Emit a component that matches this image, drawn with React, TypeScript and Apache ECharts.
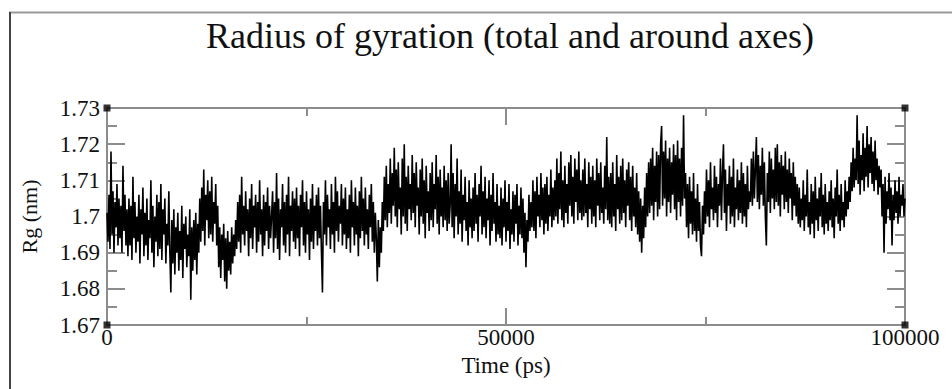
import React, { useEffect, useRef } from "react";
import * as echarts from "echarts";

const titleText = "Radius of gyration (total and around axes)";
const xAxisName = "Time (ps)";
const yAxisName = "Rg (nm)";
const timeStepPs = 125;

const rgValues: number[] = [
  // 0 - 2.5 ns
  1.701, 1.693, 1.706, 1.691, 1.718, 1.695, 1.707, 1.690, 1.704, 1.697, 1.709, 1.692, 1.705, 1.694, 1.703, 1.690, 1.714, 1.696, 1.706, 1.692, 1.702,
  // 2.6 - 7.9 ns
  1.689, 1.705, 1.692, 1.703, 1.688, 1.711, 1.694, 1.704, 1.690, 1.700,
  1.693, 1.706, 1.687, 1.702, 1.695, 1.708, 1.689, 1.701, 1.692, 1.705,
  1.688, 1.699, 1.694, 1.710, 1.690, 1.703, 1.686, 1.700, 1.693, 1.706,
  1.689, 1.704, 1.691, 1.709, 1.688, 1.702, 1.695, 1.705, 1.687, 1.698, 1.692, 1.707, 1.690,
  // 8 - 11.5 ns
  1.679, 1.699, 1.687, 1.702, 1.684, 1.697, 1.690, 1.701, 1.685, 1.696,
  1.688, 1.703, 1.683, 1.698, 1.691, 1.700, 1.686, 1.695, 1.689, 1.702,
  1.677, 1.697, 1.685, 1.699, 1.688, 1.701, 1.684, 1.698, 1.690,
  // 11.6 - 13.9 ns
  1.705, 1.693, 1.708, 1.696, 1.713, 1.692, 1.706, 1.699, 1.710, 1.694,
  1.707, 1.695, 1.711, 1.693, 1.704, 1.698, 1.709, 1.692, 1.703,
  // 14 - 16.1 ns
  1.686, 1.697, 1.683, 1.695, 1.688, 1.698, 1.682, 1.694, 1.680,
  1.696, 1.685, 1.693, 1.684, 1.697, 1.687, 1.695, 1.689, 1.699,
  // 16.25 - 20.6 ns
  1.691, 1.704, 1.693, 1.706, 1.690, 1.711, 1.695, 1.703, 1.692, 1.707, 1.696, 1.702,
  1.689, 1.705, 1.694, 1.709, 1.691, 1.703, 1.697, 1.706, 1.690, 1.704, 1.693, 1.710,
  1.695, 1.702, 1.689, 1.706, 1.692, 1.704, 1.696, 1.708, 1.691, 1.703, 1.694, 1.700,
  // 20.75 - 26.1 ns
  1.707, 1.690, 1.704, 1.694, 1.712, 1.691, 1.705, 1.688, 1.702, 1.697, 1.709,
  1.692, 1.704, 1.690, 1.706, 1.695, 1.711, 1.689, 1.703, 1.696, 1.707, 1.693,
  1.705, 1.691, 1.708, 1.694, 1.703, 1.689, 1.706, 1.697, 1.710, 1.692, 1.704,
  1.690, 1.707, 1.695, 1.702, 1.688, 1.705, 1.693, 1.709, 1.691, 1.703, 1.696,
  // 26.25 - 33.6 ns
  1.706, 1.692, 1.708, 1.694, 1.703, 1.690, 1.679, 1.704, 1.695, 1.710, 1.692, 1.706,
  1.697, 1.702, 1.691, 1.709, 1.695, 1.704, 1.690, 1.711, 1.696, 1.707, 1.693, 1.703,
  1.698, 1.709, 1.692, 1.705, 1.695, 1.708, 1.691, 1.702, 1.694, 1.706, 1.690, 1.710,
  1.697, 1.704, 1.692, 1.708, 1.695, 1.703, 1.689, 1.707, 1.694, 1.711, 1.696, 1.705,
  1.692, 1.708, 1.695, 1.702, 1.691, 1.706, 1.697, 1.709, 1.693, 1.704, 1.690, 1.701,
  // 33.75 - 34.4 ns
  1.694, 1.682, 1.699, 1.686, 1.697, 1.690,
  // 34.5 - 42.9 ns
  1.704, 1.696, 1.711, 1.699, 1.714, 1.697, 1.709, 1.701, 1.716, 1.698, 1.712, 1.703,
  1.719, 1.700, 1.713, 1.697, 1.715, 1.702, 1.708, 1.695, 1.716, 1.700, 1.720, 1.698,
  1.711, 1.696, 1.714, 1.702, 1.709, 1.699, 1.717, 1.701, 1.712, 1.697, 1.715, 1.703,
  1.708, 1.695, 1.713, 1.700, 1.716, 1.698, 1.710, 1.694, 1.714, 1.701, 1.707, 1.696,
  1.712, 1.699, 1.715, 1.697, 1.709, 1.702, 1.717, 1.698, 1.711, 1.695, 1.713, 1.700,
  1.708, 1.697, 1.714, 1.699, 1.710, 1.696, 1.712, 1.698,
  // 43 - 48.9 ns
  1.703, 1.720, 1.697, 1.712, 1.694, 1.709, 1.700, 1.716, 1.695, 1.707, 1.698, 1.713,
  1.693, 1.706, 1.699, 1.711, 1.696, 1.704, 1.692, 1.710, 1.697, 1.705, 1.694, 1.708,
  1.696, 1.712, 1.698, 1.706, 1.693, 1.709, 1.700, 1.714, 1.695, 1.707, 1.697, 1.711,
  1.694, 1.705, 1.699, 1.710, 1.692, 1.706, 1.696, 1.712, 1.698, 1.704, 1.693, 1.709,
  // 49 - 53.1 ns
  1.695, 1.703, 1.694, 1.708, 1.692, 1.705, 1.697, 1.710, 1.693, 1.704, 1.696, 1.709,
  1.691, 1.702, 1.695, 1.707, 1.693, 1.706, 1.698, 1.709, 1.692, 1.703, 1.695, 1.708,
  1.694, 1.705, 1.690, 1.701, 1.686, 1.699, 1.693, 1.706, 1.696, 1.704,
  // 53.25 - 56.1 ns
  1.697, 1.710, 1.696, 1.707, 1.694, 1.711, 1.700, 1.706, 1.697, 1.712, 1.699, 1.708,
  1.695, 1.709, 1.698, 1.711, 1.696, 1.706, 1.700, 1.713, 1.697, 1.708, 1.699, 1.710,
  // 56.25 - 59.4 ns
  1.700, 1.716, 1.698, 1.712, 1.702, 1.718, 1.699, 1.710, 1.697, 1.714, 1.701, 1.709, 1.698,
  1.715, 1.703, 1.717, 1.700, 1.711, 1.698, 1.716, 1.704, 1.713, 1.699, 1.718, 1.701, 1.710,
  // 59.5 - 62.9 ns
  1.699, 1.713, 1.700, 1.716, 1.701, 1.709, 1.697, 1.715, 1.702, 1.711, 1.698, 1.714, 1.700, 1.710,
  1.697, 1.716, 1.703, 1.712, 1.699, 1.715, 1.701, 1.708, 1.698, 1.714, 1.702, 1.722, 1.699, 1.711,
  // 63 - 67.9 ns
  1.698, 1.712, 1.697, 1.715, 1.700, 1.709, 1.696, 1.717, 1.702, 1.711,
  1.698, 1.714, 1.699, 1.716, 1.701, 1.710, 1.697, 1.713, 1.703, 1.715,
  1.699, 1.711, 1.696, 1.714, 1.700, 1.708, 1.697, 1.712, 1.695, 1.707,
  1.693, 1.705, 1.690, 1.703, 1.694, 1.708, 1.697, 1.712, 1.700, 1.715,
  // 68 - 72.4 ns
  1.701, 1.716, 1.703, 1.719, 1.699, 1.714, 1.704, 1.718, 1.700, 1.717, 1.702, 1.720,
  1.725, 1.703, 1.718, 1.705, 1.721, 1.700, 1.716, 1.704, 1.719, 1.701, 1.715, 1.706,
  1.720, 1.702, 1.717, 1.699, 1.721, 1.704, 1.716, 1.700, 1.719, 1.703, 1.728, 1.705,
  // 72.5 - 74.9 ns
  1.712, 1.697, 1.709, 1.694, 1.711, 1.698, 1.707, 1.695, 1.712, 1.696,
  1.705, 1.693, 1.709, 1.696, 1.704, 1.692, 1.689, 1.703, 1.695, 1.707,
  // 75 - 80.6 ns
  1.698, 1.713, 1.700, 1.710, 1.697, 1.715, 1.702, 1.708, 1.699, 1.714, 1.701, 1.711,
  1.697, 1.709, 1.703, 1.716, 1.699, 1.712, 1.720, 1.701, 1.713, 1.696, 1.709, 1.703,
  1.714, 1.698, 1.711, 1.700, 1.716, 1.697, 1.708, 1.702, 1.713, 1.699, 1.710, 1.701,
  1.715, 1.698, 1.712, 1.700, 1.709, 1.697, 1.714, 1.702, 1.707, 1.704,
  // 80.75 - 86.6 ns
  1.716, 1.703, 1.718, 1.705, 1.713, 1.722, 1.704, 1.717, 1.702, 1.714, 1.706, 1.719,
  1.703, 1.715, 1.700, 1.692, 1.712, 1.704, 1.718, 1.701, 1.716, 1.705, 1.713, 1.702,
  1.719, 1.704, 1.720, 1.703, 1.715, 1.700, 1.717, 1.706, 1.714, 1.702, 1.718, 1.704,
  1.713, 1.701, 1.716, 1.705, 1.712, 1.699, 1.715, 1.703, 1.711, 1.700, 1.709, 1.698,
  // 86.75 - 92.9 ns
  1.708, 1.697, 1.705, 1.699, 1.710, 1.696, 1.706, 1.700, 1.713, 1.697,
  1.704, 1.695, 1.709, 1.698, 1.707, 1.694, 1.711, 1.699, 1.705, 1.696,
  1.708, 1.700, 1.712, 1.697, 1.706, 1.695, 1.709, 1.698, 1.704, 1.696,
  1.707, 1.699, 1.710, 1.697, 1.705, 1.694, 1.708, 1.700, 1.713, 1.698,
  1.706, 1.696, 1.709, 1.699, 1.704, 1.697, 1.710, 1.700, 1.707, 1.702,
  // 93 - 96.9 ns
  1.711, 1.704, 1.715, 1.707, 1.719, 1.708, 1.716, 1.710, 1.728, 1.709, 1.721,
  1.706, 1.717, 1.710, 1.723, 1.707, 1.719, 1.711, 1.725, 1.708, 1.720, 1.712,
  1.722, 1.709, 1.718, 1.707, 1.721, 1.710, 1.716, 1.706, 1.714, 1.708,
  // 97 - 100 ns
  1.713, 1.700, 1.709, 1.690, 1.711, 1.698, 1.707, 1.702, 1.712, 1.699, 1.708, 1.692, 1.706,
  1.699, 1.710, 1.701, 1.707, 1.698, 1.711, 1.700, 1.706, 1.703, 1.709, 1.700, 1.705,
];

const xMin = 0;
const xMax = 100000;
const yMin = 1.67;
const yMax = 1.73;
const cornerMarks: [number, number][] = [
  [xMin, yMin],
  [xMax, yMin],
  [xMin, yMax],
  [xMax, yMax],
];

const FONT = "Liberation Serif";
const AXIS_COLOR = "#8c8c8c";

export default function App() {
  const ref = useRef<HTMLDivElement>(null);
  useEffect(() => {
    if (!ref.current) return;
    const chart = echarts.init(ref.current, undefined, { renderer: "svg" });
    const lineData = rgValues.map((v, i) => [i * timeStepPs, v]);
    const axisCommon = {
      axisLine: { show: true, onZero: false, lineStyle: { color: AXIS_COLOR, width: 2 } },
      splitLine: { show: false },
    };
    chart.setOption({
      animation: false,
      backgroundColor: "#ffffff",
      title: {
        text: titleText,
        left: 505,
        textAlign: "center",
        top: 13,
        textStyle: { fontFamily: FONT, fontSize: 36, fontWeight: "normal", color: "#111" },
      },
      grid: { left: 107, right: 47, top: 108, bottom: 64, containLabel: false },
      xAxis: [
        {
          type: "value",
          min: xMin,
          max: xMax,
          interval: 50000,
          name: xAxisName,
          nameLocation: "middle",
          nameGap: 28,
          nameTextStyle: { fontFamily: FONT, fontSize: 23, color: "#111" },
          axisTick: { show: true, inside: true, length: 17, lineStyle: { color: AXIS_COLOR, width: 2 } },
          minorTick: { show: true, splitNumber: 2, length: 8, lineStyle: { color: AXIS_COLOR, width: 2 } },
          axisLabel: {
            fontFamily: FONT,
            fontSize: 23,
            color: "#111",
            margin: 1,
            formatter: (v: number) => String(v),
          },
          ...axisCommon,
        },
        {
          type: "value",
          position: "top",
          min: xMin,
          max: xMax,
          interval: 50000,
          axisTick: { show: true, inside: true, length: 17, lineStyle: { color: AXIS_COLOR, width: 2 } },
          minorTick: { show: true, splitNumber: 2, length: 8, lineStyle: { color: AXIS_COLOR, width: 2 } },
          axisLabel: { show: false },
          ...axisCommon,
        },
      ],
      yAxis: [
        {
          type: "value",
          min: yMin,
          max: yMax,
          interval: 0.01,
          name: yAxisName,
          nameLocation: "middle",
          nameGap: 67,
          nameRotate: 90,
          nameTextStyle: { fontFamily: FONT, fontSize: 22, color: "#111" },
          axisTick: { show: true, inside: true, length: 18, lineStyle: { color: AXIS_COLOR, width: 2 } },
          minorTick: { show: true, splitNumber: 2, length: 10, lineStyle: { color: AXIS_COLOR, width: 2 } },
          axisLabel: {
            fontFamily: FONT,
            fontSize: 23,
            color: "#111",
            margin: 7,
            formatter: (v: number) => String(parseFloat(v.toFixed(2))),
          },
          ...axisCommon,
        },
        {
          type: "value",
          position: "right",
          min: yMin,
          max: yMax,
          interval: 0.01,
          axisTick: { show: true, inside: true, length: 18, lineStyle: { color: AXIS_COLOR, width: 2 } },
          minorTick: { show: true, splitNumber: 2, length: 10, lineStyle: { color: AXIS_COLOR, width: 2 } },
          axisLabel: { show: false },
          ...axisCommon,
        },
      ],
      graphic: [
        {
          type: "line",
          shape: { x1: 9, y1: 12.5, x2: 952, y2: 12.5 },
          style: { stroke: "#9a9a9a", lineWidth: 2 },
        },
        {
          type: "line",
          shape: { x1: 10, y1: 12, x2: 10, y2: 389 },
          style: { stroke: "#444", lineWidth: 2 },
        },
      ],
      series: [
        {
          type: "line",
          data: lineData,
          showSymbol: false,
          symbol: "none",
          lineStyle: { color: "#000", width: 1.6 },
          clip: true,
        },
        {
          type: "scatter",
          data: cornerMarks,
          symbol: "rect",
          symbolSize: 7,
          itemStyle: { color: "#000" },
          z: 10,
          clip: false,
        },
      ],
    });
    return () => chart.dispose();
  }, []);
  return (
    <div
      ref={ref}
      style={{ position: "fixed", left: 0, top: 0, width: 952, height: 389, background: "#fff" }}
    />
  );
}
